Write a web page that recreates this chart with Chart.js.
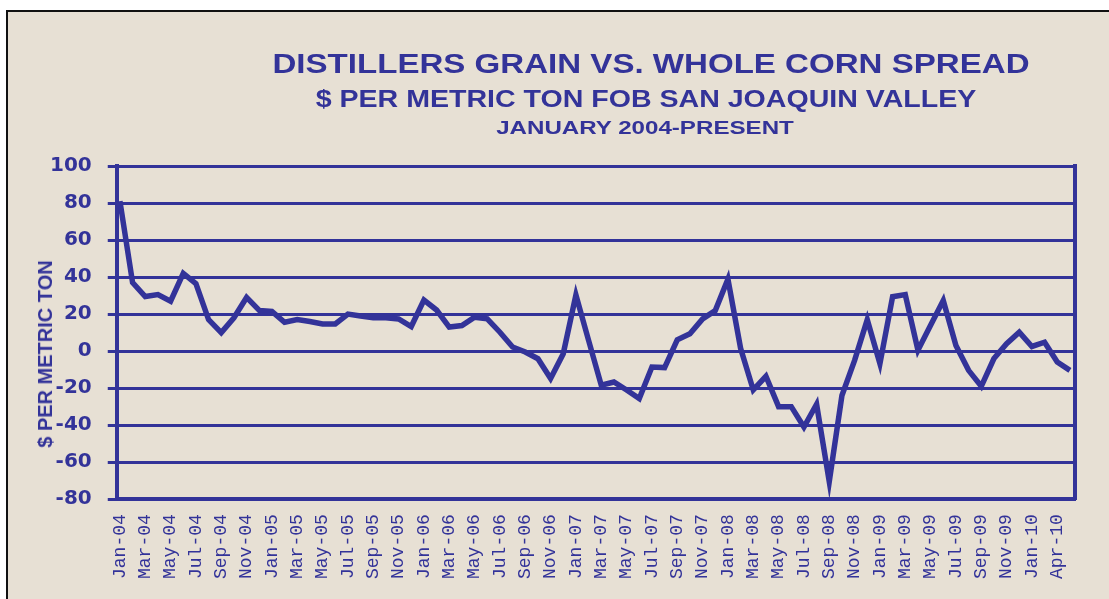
<!DOCTYPE html>
<html>
<head>
<meta charset="utf-8">
<script src="https://cdn.jsdelivr.net/npm/chart.js@4"></script>
<style>
  html, body { margin: 0; padding: 0; background: #fff; }
  body { width: 1109px; height: 599px; position: relative; overflow: hidden; }
  #frame {
    position: absolute; left: 6px; top: 10px; width: 1103px; height: 589px;
    box-sizing: border-box; border-left: 2px solid #111; border-top: 2px solid #111;
    background: #e7e0d4;
  }
  #myChart { position: absolute; left: 0; top: 0; }
  .title {
    position: absolute; white-space: nowrap; line-height: 1;
    font-family: "Liberation Sans", Arial, sans-serif; font-weight: bold; color: #333399;
  }
</style>
</head>
<body>
<div id="frame"></div>
<canvas id="myChart" width="1109" height="599"></canvas>
<div class="title" style="left:651px; top:64px; font-size:27px; transform:translate(-50%,-50%) scaleX(1.225);">DISTILLERS GRAIN VS. WHOLE CORN SPREAD</div>
<div class="title" style="left:646px; top:99px; font-size:24px; transform:translate(-50%,-50%) scaleX(1.19);">$ PER METRIC TON FOB SAN JOAQUIN VALLEY</div>
<div class="title" style="left:645px; top:127px; font-size:19px; transform:translate(-50%,-50%) scaleX(1.27);">JANUARY 2004-PRESENT</div>
<div class="title" style="left:45px; top:354px; font-size:20px; transform:translate(-50%,-50%) rotate(-90deg);">$ PER METRIC TON</div>
<script>
const months = [
    'Jan-04', 'Feb-04', 'Mar-04', 'Apr-04', 'May-04', 'Jun-04', 'Jul-04', 'Aug-04', 'Sep-04', 'Oct-04', 'Nov-04', 'Dec-04',
    'Jan-05', 'Feb-05', 'Mar-05', 'Apr-05', 'May-05', 'Jun-05', 'Jul-05', 'Aug-05', 'Sep-05', 'Oct-05', 'Nov-05', 'Dec-05',
    'Jan-06', 'Feb-06', 'Mar-06', 'Apr-06', 'May-06', 'Jun-06', 'Jul-06', 'Aug-06', 'Sep-06', 'Oct-06', 'Nov-06', 'Dec-06',
    'Jan-07', 'Feb-07', 'Mar-07', 'Apr-07', 'May-07', 'Jun-07', 'Jul-07', 'Aug-07', 'Sep-07', 'Oct-07', 'Nov-07', 'Dec-07',
    'Jan-08', 'Feb-08', 'Mar-08', 'Apr-08', 'May-08', 'Jun-08', 'Jul-08', 'Aug-08', 'Sep-08', 'Oct-08', 'Nov-08', 'Dec-08',
    'Jan-09', 'Feb-09', 'Mar-09', 'Apr-09', 'May-09', 'Jun-09', 'Jul-09', 'Aug-09', 'Sep-09', 'Oct-09', 'Nov-09', 'Dec-09',
    'Jan-10', 'Mar-10', 'Apr-10', 'May-10',
];

// $ per metric ton, distillers grain minus whole corn
const spread = [
    81, 37, 29.5, 30.5, 27, 42, 36.5, 17, 10, 18, 29, 22,
    21.5, 15.6, 17, 16, 14.7, 14.7, 20, 19, 18, 18, 17.4, 13.3,
    27.6, 22.2, 13, 13.8, 18.3, 17.4, 10.2, 2.2, -0.5, -4.1, -14.8, -1.4,
    30.3, 5.8, -18.4, -16.7, -21, -25.6, -8.6, -8.9, 6.1, 9.4, 17.4, 21.9,
    38.9, 1.5, -21, -13.6, -30, -30, -41, -28.7, -70.5, -24, -5, 17,
    -6.8, 29.4, 30.5, 0.5, 14, 27.3, 3, -10.4, -19, -4, 4, 10.2,
    2.5, 4.8, -5.9, -10.4,
];

const yMin = -80;
const yMax = 100;
const yStep = 20;

const navy = '#333399';

const data = {
    datasets: [
        {
            label: 'Spread',
            data: spread.map((v, i) => ({ x: i, y: v })),
            borderColor: navy,
            borderWidth: 5.5,
            pointRadius: 0,
            tension: 0,
            fill: false,
        },
    ]
};

const config = {
    type: 'line',
    data: data,
    options: {
        responsive: false,
        animation: false,
        layout: {
            padding: { left: 34, top: 166, right: 34, bottom: 5 }
        },
        plugins: {
            legend: { display: false },
            tooltip: { enabled: false },
        },
        scales: {
            x: {
                type: 'linear',
                min: -0.25,
                max: months.length - 0.6,
                afterBuildTicks: (axis) => {
                    axis.ticks = months.map((m, i) => ({ value: i })).filter((t) => t.value % 2 === 0);
                },
                grid: { display: false, drawTicks: false },
                border: { display: true, color: navy, width: 4 },
                ticks: {
                    autoSkip: false,
                    minRotation: 90,
                    maxRotation: 90,
                    padding: 15,
                    color: navy,
                    font: { family: '"Liberation Mono", "Courier New", monospace', size: 18 },
                    callback: (value) => months[value],
                },
            },
            y: {
                min: yMin,
                max: yMax,
                grid: { color: navy, lineWidth: 3, tickLength: 9, drawTicks: true },
                border: { display: true, color: navy, width: 4 },
                ticks: {
                    stepSize: yStep,
                    padding: 16,
                    color: navy,
                    font: { family: '"DejaVu Sans", sans-serif', size: 20, weight: 'bold' },
                },
            },
            y2: {
                position: 'right',
                min: yMin,
                max: yMax,
                grid: { display: false, drawTicks: false },
                border: { display: true, color: navy, width: 4 },
                ticks: { display: false },
            },
        }
    }
};

const chart = new Chart(
    document.getElementById('myChart'),
    config
);
</script>
</body>
</html>
